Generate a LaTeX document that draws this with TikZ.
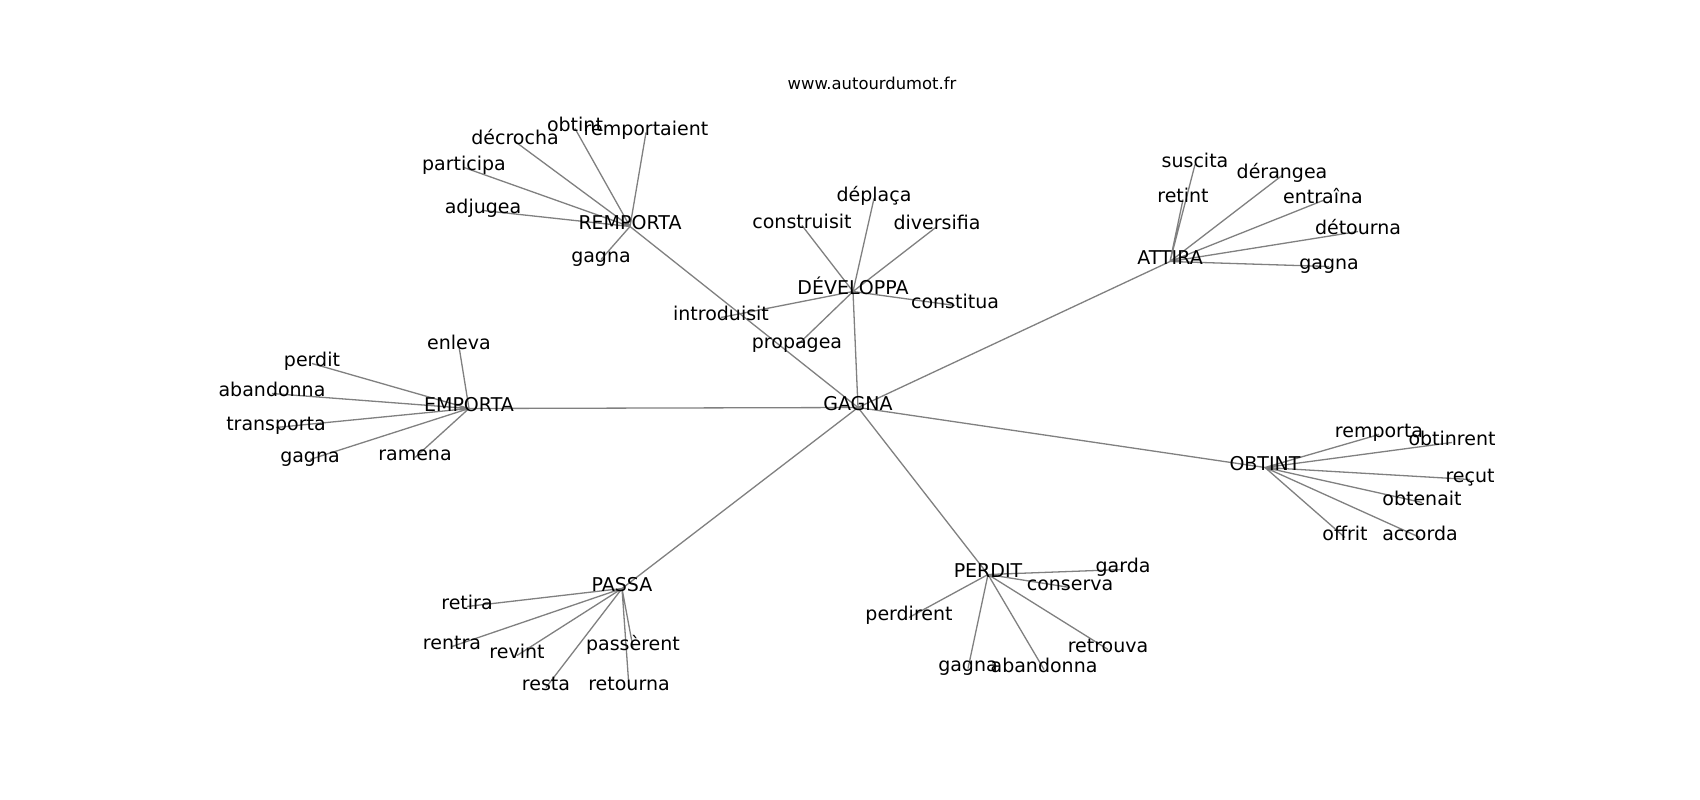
\documentclass[tikz,border=0pt]{standalone}
\usepackage{fontspec}
\setmainfont{DejaVu Sans}
\usepackage{xcolor}
\usepackage{tikz}
\usetikzlibrary{backgrounds}
\definecolor{ink}{HTML}{000000}
\definecolor{wire}{HTML}{808080}
\tikzset{
  lab/.style={text=ink, inner sep=0pt, yshift=-4.5pt, font=\fontsize{19}{23}\selectfont, text height=0.75em, text depth=0.25em},
  link/.style={draw=wire, line width=1.3pt},
  site/.style={text=ink, inner sep=0pt, font=\fontsize{16.4}{20}\selectfont},
}

\begin{document}
\begin{tikzpicture}[x=1pt, y=-1pt]
  \useasboundingbox (0,0) rectangle (1700,800);
  \node[site] (url) at (872,83) {www.autourdumot.fr};

  % hubs
  \node[lab] (G) at (858,403) {GAGNA};
  \node[lab] (D) at (853,287) {DÉVELOPPA};
  \node[lab] (R) at (630,222) {REMPORTA};
  \node[lab] (E) at (469,404) {EMPORTA};
  \node[lab] (A) at (1170,257) {ATTIRA};
  \node[lab] (O) at (1265,463) {OBTINT};
  \node[lab] (P) at (988,570) {PERDIT};
  \node[lab] (S) at (622,584) {PASSA};

  % DÉVELOPPA
  \node[lab] (D1) at (802,221) {construisit};
  \node[lab] (D2) at (874,194) {déplaça};
  \node[lab] (D3) at (937,222) {diversifia};
  \node[lab] (D4) at (955,301) {constitua};
  \node[lab] (D5) at (721,313) {introduisit};
  \node[lab] (D6) at (797,341) {propagea};

  % REMPORTA
  \node[lab] (R1) at (575,124) {obtint};
  \node[lab] (R2) at (646,128) {remportaient};
  \node[lab] (R3) at (515,137) {décrocha};
  \node[lab] (R4) at (464,163) {participa};
  \node[lab] (R5) at (483,206) {adjugea};
  \node[lab] (R6) at (601,255) {gagna};

  % EMPORTA
  \node[lab] (E1) at (459,342) {enleva};
  \node[lab] (E2) at (312,359) {perdit};
  \node[lab] (E3) at (272,389) {abandonna};
  \node[lab] (E4) at (276,423) {transporta};
  \node[lab] (E5) at (310,455) {gagna};
  \node[lab] (E6) at (415,453) {ramena};

  % ATTIRA
  \node[lab] (A1) at (1195,160) {suscita};
  \node[lab] (A2) at (1183,195) {retint};
  \node[lab] (A3) at (1282,171) {dérangea};
  \node[lab] (A4) at (1323,196) {entraîna};
  \node[lab] (A5) at (1358,227) {détourna};
  \node[lab] (A6) at (1329,262) {gagna};

  % OBTINT
  \node[lab] (O1) at (1379,430) {remporta};
  \node[lab] (O2) at (1452,438) {obtinrent};
  \node[lab] (O3) at (1470,475) {reçut};
  \node[lab] (O4) at (1422,498) {obtenait};
  \node[lab] (O5) at (1345,533) {offrit};
  \node[lab] (O6) at (1420,533) {accorda};

  % PERDIT
  \node[lab] (P1) at (1123,565) {garda};
  \node[lab] (P2) at (1070,583) {conserva};
  \node[lab] (P3) at (909,613) {perdirent};
  \node[lab] (P4) at (968,664) {gagna};
  \node[lab] (P5) at (1044,665) {abandonna};
  \node[lab] (P6) at (1108,645) {retrouva};

  % PASSA
  \node[lab] (S1) at (467,602) {retira};
  \node[lab] (S2) at (452,642) {rentra};
  \node[lab] (S3) at (517,651) {revint};
  \node[lab] (S4) at (633,643) {passèrent};
  \node[lab] (S5) at (546,683) {resta};
  \node[lab] (S6) at (629,683) {retourna};

  \begin{scope}[on background layer]
    \fill[white] (0,0) rectangle (1700,800);
    \draw[link] (G.center) -- (D.center);
    \draw[link] (G.center) -- (R.center);
    \draw[link] (G.center) -- (E.center);
    \draw[link] (G.center) -- (A.center);
    \draw[link] (G.center) -- (O.center);
    \draw[link] (G.center) -- (P.center);
    \draw[link] (G.center) -- (S.center);
    \draw[link] (D.center) -- (D1.center) (D.center) -- (D2.center) (D.center) -- (D3.center)
                (D.center) -- (D4.center) (D.center) -- (D5.center) (D.center) -- (D6.center);
    \draw[link] (R.center) -- (R1.center) (R.center) -- (R2.center) (R.center) -- (R3.center)
                (R.center) -- (R4.center) (R.center) -- (R5.center) (R.center) -- (R6.center);
    \draw[link] (E.center) -- (E1.center) (E.center) -- (E2.center) (E.center) -- (E3.center)
                (E.center) -- (E4.center) (E.center) -- (E5.center) (E.center) -- (E6.center);
    \draw[link] (A.center) -- (A1.center) (A.center) -- (A2.center) (A.center) -- (A3.center)
                (A.center) -- (A4.center) (A.center) -- (A5.center) (A.center) -- (A6.center);
    \draw[link] (O.center) -- (O1.center) (O.center) -- (O2.center) (O.center) -- (O3.center)
                (O.center) -- (O4.center) (O.center) -- (O5.center) (O.center) -- (O6.center);
    \draw[link] (P.center) -- (P1.center) (P.center) -- (P2.center) (P.center) -- (P3.center)
                (P.center) -- (P4.center) (P.center) -- (P5.center) (P.center) -- (P6.center);
    \draw[link] (S.center) -- (S1.center) (S.center) -- (S2.center) (S.center) -- (S3.center)
                (S.center) -- (S4.center) (S.center) -- (S5.center) (S.center) -- (S6.center);
  \end{scope}
\end{tikzpicture}
\end{document}
